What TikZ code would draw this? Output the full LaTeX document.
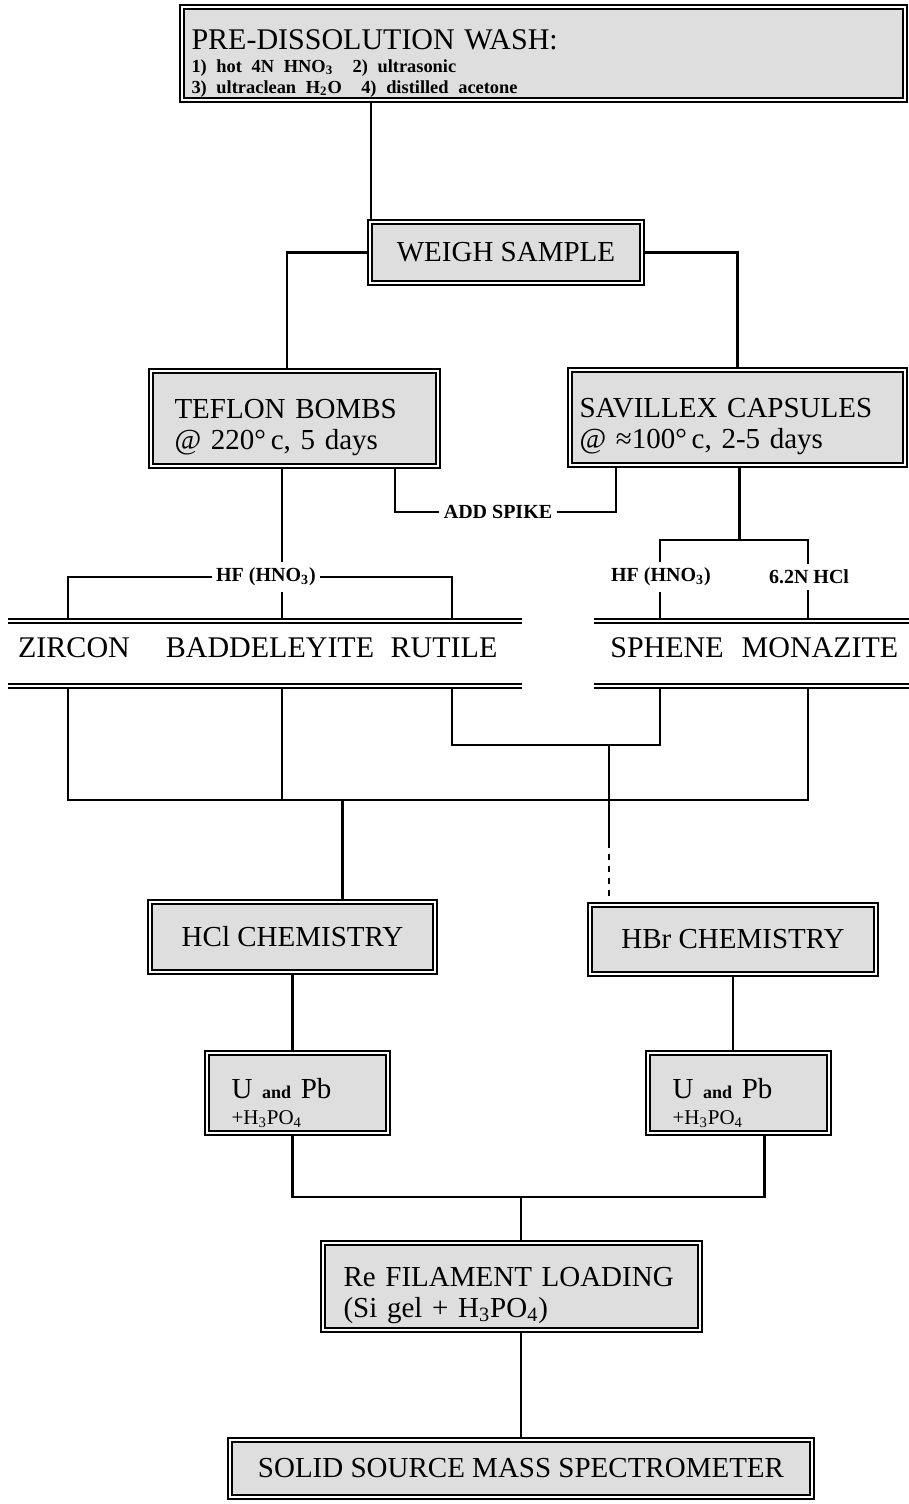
\documentclass[tikz,border=0pt]{standalone}
\usepackage{fontspec}
\setmainfont{Liberation Serif}
\newcommand\boxfont{\fontsize{14.5}{15.5}\selectfont}
\newcommand\minfont{\fontsize{15}{16}\selectfont}
\newcommand\headfont{\fontsize{15}{16}\selectfont}
\newcommand\washfont{\fontsize{9.2}{10.5}\selectfont\bfseries}
\newcommand\tagfont{\fontsize{10}{12}\selectfont\bfseries}
\newcommand\andfont{\fontsize{9}{11}\selectfont\bfseries}
\newcommand\acidfont{\fontsize{10.5}{12}\selectfont}
\newcommand\lift[1]{\rule{0pt}{#1}}

\begin{document}
\begin{tikzpicture}[x=0.5pt, y=-0.5pt,
    box/.style={draw, line width=0.9pt, double=white, double distance=1.3pt, fill=black!13, inner sep=0pt, font=\boxfont},
    lbox/.style={box, align=left},
    cbox/.style={box, align=center},
    tag/.style={font=\tagfont, inner xsep=2pt, inner ysep=3pt},
    mineral/.style={font=\minfont, inner sep=0pt},
    conn/.style={line width=1.1pt},
    bar/.style={line width=0.6pt, double=white, double distance=1.4pt}
]
\useasboundingbox (0,0) rectangle (909,1504);

\node[lbox, minimum width=361.5pt, minimum height=46.5pt, text width=352pt] (wash) at (543.5,53.5)
    {\headfont\lift{20pt}PRE-DISSOLUTION WASH:\\[1pt]
     {\washfont 1) hot 4N HNO\textsubscript{3}\ \ 2) ultrasonic\\
      3) ultraclean H\textsubscript{2}O\ \ 4) distilled acetone\par}};
\node[cbox, minimum width=136pt, minimum height=30.5pt] (weigh) at (506,252.5) {WEIGH SAMPLE};
\node[lbox, minimum width=143.5pt, minimum height=47.5pt, text width=120pt] (teflon) at (294.5,418.5)
    {\lift{18.5pt}TEFLON BOMBS\\ @ 220°\,c, 5 days};
\node[lbox, minimum width=167.5pt, minimum height=47.5pt, text width=158pt] (savillex) at (737.5,417.5)
    {\lift{18.5pt}SAVILLEX CAPSULES\\ @ ≈100°\,c, 2-5 days};
\node[tag] (spike) at (498,512) {ADD SPIKE};

\node[tag] (hfL) at (266,577) {HF (HNO\textsubscript{3})};
\node[tag] (hfR) at (661,577) {HF (HNO\textsubscript{3})};
\node[tag] (hcl62) at (809,577) {6.2N HCl};

% rails and columns
\coordinate (bartop) at (0,620);
\coordinate (barbot) at (0,688);
\coordinate (split) at (0,540);
\coordinate (pair) at (0,745);
\coordinate (mix) at (0,800);
\coordinate (dash) at (0,842);
\coordinate (join) at (0,1197);
\coordinate (czir) at (68,0);
\coordinate (cbad) at (282,0);
\coordinate (crut) at (452,0);
\coordinate (csph) at (660,0);
\coordinate (cmon) at (808,0);
\coordinate (chbr) at (609,0);

\draw[bar] (8,621) -- (522,621);
\draw[bar] (8,686) -- (522,686);
\draw[bar] (594,621) -- (909,621);
\draw[bar] (594,686) -- (909,686);

\node[mineral] (zir) at (74,648) {ZIRCON};
\node[mineral] (bad) at (270,648) {BADDELEYITE};
\node[mineral] (rut) at (444,648) {RUTILE};
\node[mineral] (sph) at (667,648) {SPHENE};
\node[mineral] (mon) at (820,648) {MONAZITE};

\node[cbox, minimum width=142.5pt, minimum height=35pt] (hcl) at (292.5,937) {HCl CHEMISTRY};
\node[cbox, minimum width=143pt, minimum height=34.5pt] (hbr) at (733,939.5) {HBr CHEMISTRY};
\node[lbox, minimum width=90.5pt, minimum height=40pt, text width=66pt] (upbL) at (297.5,1093)
    {\lift{20pt}U {\andfont and} Pb\\[1pt] {\acidfont +H\textsubscript{3}PO\textsubscript{4}\par}};
\node[lbox, minimum width=90.5pt, minimum height=40pt, text width=66pt] (upbR) at (738.5,1093)
    {\lift{20pt}U {\andfont and} Pb\\[1pt] {\acidfont +H\textsubscript{3}PO\textsubscript{4}\par}};
\node[lbox, minimum width=188.5pt, minimum height=43.5pt, text width=168pt] (refil) at (511.5,1286.5)
    {\lift{18.5pt}Re FILAMENT LOADING\\ (Si gel + H\textsubscript{3}PO\textsubscript{4})};
\node[cbox, minimum width=291pt, minimum height=28.5pt] (mass) at (521,1468.5) {SOLID SOURCE MASS SPECTROMETER};

\draw[conn] ([xshift=1pt]wash.south -| weigh.west) -- ([xshift=1pt]weigh.north west);
\draw[conn] (weigh.west) -| ([xshift=-3.75pt]teflon.north);
\draw[conn] (weigh.east) -| (savillex.north);
\draw[conn] ([xshift=-22pt]teflon.south east) |- (spike.west);
\draw[conn] (spike.east) -| ([xshift=23.5pt]savillex.south west);

\draw[conn] (cbad |- teflon.south) -- (cbad |- hfL.north);
\draw[conn] (cbad |- hfL.south) -- (cbad |- bartop);
\draw[conn] (czir |- bartop) |- (hfL.west);
\draw[conn] (hfL.east) -| (crut |- bartop);
\draw[conn] ([xshift=1pt]savillex.south) -- ([xshift=1pt]savillex.south |- split);
\draw[conn] (csph |- hfR.north) |- (cmon |- split) -- (cmon |- hcl62.north);
\draw[conn] (csph |- hfR.south) -- (csph |- bartop);
\draw[conn] (cmon |- hcl62.south) -- (cmon |- bartop);

\draw[conn] (czir |- barbot) -- (czir |- mix) -- (cmon |- mix) -- (cmon |- barbot);
\draw[conn] (cbad |- barbot) -- (cbad |- mix);
\draw[conn] (crut |- barbot) -- (crut |- pair) -- (csph |- pair) -- (csph |- barbot);
\draw[conn] (chbr |- pair) -- (chbr |- dash);
\draw[conn, dashed] (chbr |- dash) -- (chbr |- hbr.north);
\draw[conn] ([xshift=25pt]hcl.north |- mix) -- ([xshift=25pt]hcl.north);

\draw[conn] (hcl.south) -- (hcl.south |- upbL.north);
\draw[conn] (hbr.south) -- (hbr.south |- upbR.north);
\draw[conn] (upbL.south -| hcl.south) |- ([xshift=13pt]upbR.south |- join) -- ([xshift=13pt]upbR.south);
\draw[conn] (mass.north |- join) -- (mass.north |- refil.north);
\draw[conn] (mass.north |- refil.south) -- (mass.north);
\end{tikzpicture}
\end{document}
